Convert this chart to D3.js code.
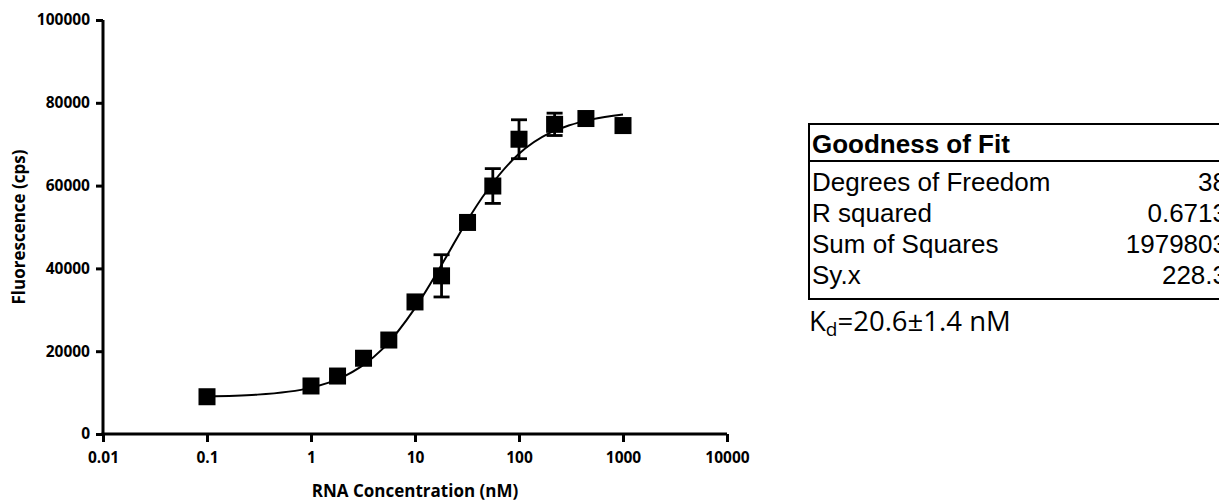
<!DOCTYPE html>
<html>
<head>
<meta charset="utf-8">
<script src="https://cdn.jsdelivr.net/npm/d3@7"></script>
<style>
  html, body { margin: 0; padding: 0; background: #fff; overflow: hidden; }
  svg { display: block; }
</style>
</head>
<body>
<svg id="chart" width="1219" height="502"></svg>
<script>
// Binding data: RNA titration (nM) vs fluorescence (cps), mean ± SD
const concentrations = [0.1, 1, 1.8, 3.2, 5.6, 10, 18, 32, 56, 100, 220, 440, 1000];
const fluorescence   = [9000, 11600, 14000, 18300, 22700, 31900, 38200, 51100, 59900, 71200, 74800, 76200, 74500];
const errorSD        = [0, 0, 0, 0, 0, 0, 5100, 0, 4200, 4700, 2700, 0, 400];

// Fitted binding curve, sampled along concentration
const fitConc  = [0.1, 0.3, 1, 2, 3, 5, 10, 20, 30, 50, 100, 200, 300, 500, 1000];
const fitValue = [9100, 9500, 11200, 13700, 16200, 20800, 30400, 42800, 50500, 59000, 67700, 72800, 74500, 76000, 77200];

// Axis ticks
const xTicks = [0.01, 0.1, 1, 10, 100, 1000, 10000];
const xTickLabels = ["0.01", "0.1", "1", "10", "100", "1000", "10000"];
const yTicks = [0, 20000, 40000, 60000, 80000, 100000];
const yTickLabels = ["0", "20000", "40000", "60000", "80000", "100000"];

// Goodness-of-fit table
const fitStatNames  = ["Degrees of Freedom", "R squared", "Sum of Squares", "Sy.x"];
const fitStatValues = ["38", "0.6713", "1979803", "228.3"];

const svg = d3.select("#chart");
const axisFont = "'Open Sans', 'Noto Sans', sans-serif";

const x = d3.scaleLog().domain([0.01, 10000]).range([103, 727]);
const y = d3.scaleLinear().domain([0, 100000]).range([434, 20]);

// Y axis
const yAxis = svg.append("g").attr("transform", `translate(${x(0.01)},0)`)
  .call(d3.axisLeft(y).tickValues(yTicks).tickFormat((d, i) => yTickLabels[i])
    .tickSize(7).tickSizeOuter(0).tickPadding(6));
// X axis
const xAxis = svg.append("g").attr("transform", `translate(0,${y(0)})`)
  .call(d3.axisBottom(x).tickValues(xTicks).tickFormat((d, i) => xTickLabels[i])
    .tickSize(8).tickSizeOuter(0).tickPadding(10));

[yAxis, xAxis].forEach(g => {
  g.select(".domain").attr("stroke", "#000").attr("stroke-width", 3);
  g.selectAll(".tick line").attr("stroke", "#000").attr("stroke-width", 3);
  g.selectAll(".tick text")
    .attr("fill", "#000")
    .style("font-family", axisFont)
    .style("font-weight", "700")
    .style("font-size", "15.5px");
});
// extend axis lines so the corner joins cleanly
xAxis.select(".domain").attr("d", `M${x(0.01) - 1.5},0H${x(10000)}`);
yAxis.select(".domain").attr("d", `M0,${y(100000)}V${y(0) + 1.5}`);

// Axis titles
svg.append("text")
  .attr("transform", `translate(25,227) rotate(-90)`)
  .attr("text-anchor", "middle")
  .style("font-family", axisFont).style("font-weight", "700").style("font-size", "17px")
  .text("Fluorescence (cps)");
svg.append("text")
  .attr("x", 415).attr("y", 497)
  .attr("text-anchor", "middle")
  .style("font-family", axisFont).style("font-weight", "700").style("font-size", "17px")
  .text("RNA Concentration (nM)");

// Fit curve
const fitPts = fitConc.map((c, i) => [x(c), y(fitValue[i])]);
svg.append("path")
  .attr("d", d3.line().curve(d3.curveMonotoneX)(fitPts))
  .attr("fill", "none").attr("stroke", "#000").attr("stroke-width", 2);

// Error bars
const points = concentrations.map((c, i) => ({ c, v: fluorescence[i], e: errorSD[i] }));
const eb = svg.append("g").attr("stroke", "#000").attr("stroke-width", 2.8);
points.filter(p => p.e > 0).forEach(p => {
  const cx = x(p.c), capW = 8;
  eb.append("line").attr("x1", cx).attr("x2", cx).attr("y1", y(p.v + p.e)).attr("y2", y(p.v - p.e));
  eb.append("line").attr("x1", cx - capW).attr("x2", cx + capW).attr("y1", y(p.v + p.e)).attr("y2", y(p.v + p.e));
  eb.append("line").attr("x1", cx - capW).attr("x2", cx + capW).attr("y1", y(p.v - p.e)).attr("y2", y(p.v - p.e));
});

// Square markers
const ms = 17;
svg.append("g").selectAll("rect").data(points).join("rect")
  .attr("x", d => x(d.c) - ms / 2).attr("y", d => y(d.v) - ms / 2)
  .attr("width", ms).attr("height", ms).attr("fill", "#000");

// Goodness of fit table (runs past the right edge)
const tableFont = "'Liberation Sans', Arial, sans-serif";
const tLeft = 809, tTop = 124, headerLineY = 161, rowPitch = 31;
const firstBaseline = 191, tBottom = 299;
const table = svg.append("g");
table.append("rect").attr("x", tLeft).attr("y", tTop).attr("width", 440).attr("height", tBottom - tTop)
  .attr("fill", "none").attr("stroke", "#000").attr("stroke-width", 2);
table.append("line").attr("x1", tLeft).attr("x2", 1250).attr("y1", headerLineY).attr("y2", headerLineY)
  .attr("stroke", "#000").attr("stroke-width", 2);
table.append("text").attr("x", tLeft + 3).attr("y", 153)
  .style("font-family", tableFont).style("font-weight", "700").style("font-size", "26px")
  .text("Goodness of Fit");
fitStatNames.forEach((name, i) => {
  const by = firstBaseline + i * rowPitch;
  table.append("text").attr("x", tLeft + 3).attr("y", by)
    .style("font-family", tableFont).style("font-size", "26px").text(name);
  table.append("text").attr("x", 1227).attr("y", by).attr("text-anchor", "end")
    .style("font-family", tableFont).style("font-size", "26px").text(fitStatValues[i]);
});

// Dissociation constant annotation
const kd = svg.append("text").attr("x", 809).attr("y", 331)
  .style("font-family", axisFont).style("font-size", "27.5px");
kd.append("tspan").text("K");
kd.append("tspan").attr("dy", 5).style("font-size", "19px").text("d");
kd.append("tspan").attr("dy", -5).text("=20.6±1.4 nM");
</script>
</body>
</html>
